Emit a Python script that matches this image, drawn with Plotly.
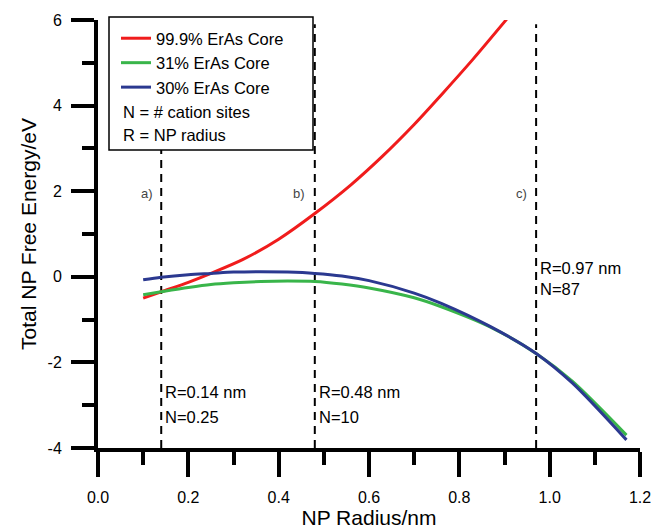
import plotly.graph_objects as go

# ---- data ----
red_x = [0.10, 0.14, 0.20, 0.25, 0.32, 0.40, 0.48, 0.56, 0.63, 0.70, 0.76, 0.83, 0.905]
red_y = [-0.50, -0.35, -0.13, 0.08, 0.40, 0.88, 1.48, 2.15, 2.82, 3.56, 4.25, 5.08, 6.02]

green_x = [0.10, 0.14, 0.20, 0.25, 0.30, 0.36, 0.42, 0.48, 0.54, 0.60, 0.70, 0.76, 0.87, 0.97, 1.05, 1.17]
green_y = [-0.42, -0.35, -0.25, -0.18, -0.14, -0.11, -0.10, -0.11, -0.17, -0.26, -0.49, -0.70, -1.18, -1.79, -2.44, -3.70]

blue_x = [0.10, 0.14, 0.20, 0.25, 0.30, 0.36, 0.42, 0.48, 0.54, 0.60, 0.70, 0.76, 0.87, 0.97, 1.05, 1.17]
blue_y = [-0.07, -0.01, 0.05, 0.08, 0.11, 0.12, 0.11, 0.08, 0.02, -0.09, -0.38, -0.62, -1.17, -1.79, -2.48, -3.81]

series_names = ["99.9% ErAs Core", "31% ErAs Core", "30% ErAs Core"]
series_colors = ["#f01c1c", "#39b54a", "#2b3990"]

x_tickvals = [0.0, 0.2, 0.4, 0.6, 0.8, 1.0, 1.2]
x_ticktext = ["0.0", "0.2", "0.4", "0.6", "0.8", "1.0", "1.2"]
y_tickvals = [-4, -2, 0, 2, 4, 6]
y_ticktext = ["-4", "-2", "0", "2", "4", "6"]

marker_x = [0.14, 0.48, 0.97]
marker_letters = ["a)", "b)", "c)"]
marker_R = ["R=0.14 nm", "R=0.48 nm", "R=0.97 nm"]
marker_N = ["N=0.25", "N=10", "N=87"]
R_label_y = [-2.69, -2.69, 0.20]
N_label_y = [-3.28, -3.28, -0.29]
letter_x = [0.108, 0.444, 0.937]
letter_y = 1.95
line_top = 5.9

FONT = "Arial, Liberation Sans, sans-serif"

fig = go.Figure()

# dashed marker lines
for mx in marker_x:
    fig.add_trace(go.Scatter(x=[mx, mx], y=[-4, line_top], mode="lines",
                             line=dict(color="black", width=2, dash="8px,6px"),
                             showlegend=False, hoverinfo="skip"))

for xs, ys, nm, col in zip([red_x, green_x, blue_x], [red_y, green_y, blue_y],
                           series_names, series_colors):
    fig.add_trace(go.Scatter(x=xs, y=ys, mode="lines", name=nm,
                             line=dict(color=col, width=3, shape="spline", smoothing=0.8),
                             cliponaxis=True))

# legend box (white, covers dashed lines)
L, R, T, B = 98, 640, 20, 448
W, H = R - L, B - T
def px(xp):
    return (xp - L) / W
def py(yp):
    return (B - yp) / H

fig.add_shape(type="rect", xref="paper", yref="paper",
              x0=px(109), x1=px(313), y0=py(150), y1=py(17),
              line=dict(color="black", width=1.5), fillcolor="white", layer="above")

annotations = []
annotations.append(dict(text="N = # cation sites", xref="paper", yref="paper",
                        x=px(121), y=py(112), xanchor="left", yanchor="middle",
                        showarrow=False, font=dict(size=16.5, color="black", family=FONT)))
annotations.append(dict(text="R = NP radius", xref="paper", yref="paper",
                        x=px(121), y=py(135), xanchor="left", yanchor="middle",
                        showarrow=False, font=dict(size=16.5, color="black", family=FONT)))

for i, mx in enumerate(marker_x):
    annotations.append(dict(text=marker_letters[i], x=letter_x[i], y=letter_y,
                            xref="x", yref="y", showarrow=False, xanchor="center",
                            yanchor="middle", font=dict(size=13, color="#444", family=FONT)))
    annotations.append(dict(text=marker_R[i], x=mx, y=R_label_y[i], xref="x", yref="y",
                            xshift=2, showarrow=False, xanchor="left", yanchor="middle",
                            font=dict(size=16.5, color="black", family=FONT)))
    annotations.append(dict(text=marker_N[i], x=mx, y=N_label_y[i], xref="x", yref="y",
                            xshift=2, showarrow=False, xanchor="left", yanchor="middle",
                            font=dict(size=16.5, color="black", family=FONT)))

fig.update_layout(
    width=654, height=530,
    margin=dict(l=L, r=654 - R, t=T, b=530 - B),
    paper_bgcolor="white", plot_bgcolor="white",
    font=dict(family=FONT, size=16, color="black"),
    showlegend=True,
    legend=dict(x=px(116), y=py(21), xanchor="left", yanchor="top",
                bgcolor="rgba(0,0,0,0)", borderwidth=0,
                font=dict(size=16.5, family=FONT), tracegroupgap=0,
                itemwidth=30),
    annotations=annotations,
)

fig.update_xaxes(range=[0, 1.2], tickmode="array", tickvals=x_tickvals, ticktext=x_ticktext,
                 showgrid=False, zeroline=False, showline=True, linecolor="black",
                 linewidth=4, ticks="outside", ticklen=25, tickwidth=4, tickcolor="black",
                 minor=dict(dtick=0.1, tick0=0, ticks="outside", ticklen=13, tickwidth=4,
                            tickcolor="black", showgrid=False),
                 tickfont=dict(size=16), ticklabelstandoff=7, automargin=False,
                 title=dict(text="NP Radius/nm", font=dict(size=21), standoff=4))
fig.update_yaxes(range=[-4, 6], tickmode="array", tickvals=y_tickvals, ticktext=y_ticktext,
                 showgrid=False, zeroline=False, showline=True, linecolor="black",
                 linewidth=4, ticks="outside", ticklen=23, tickwidth=4, tickcolor="black",
                 minor=dict(dtick=1, tick0=0, ticks="outside", ticklen=12, tickwidth=4,
                            tickcolor="black", showgrid=False),
                 tickfont=dict(size=16), ticklabelstandoff=6, automargin=False,
                 title=dict(text="Total NP Free Energy/eV", font=dict(size=21), standoff=6))

fig.write_html("out.html")
